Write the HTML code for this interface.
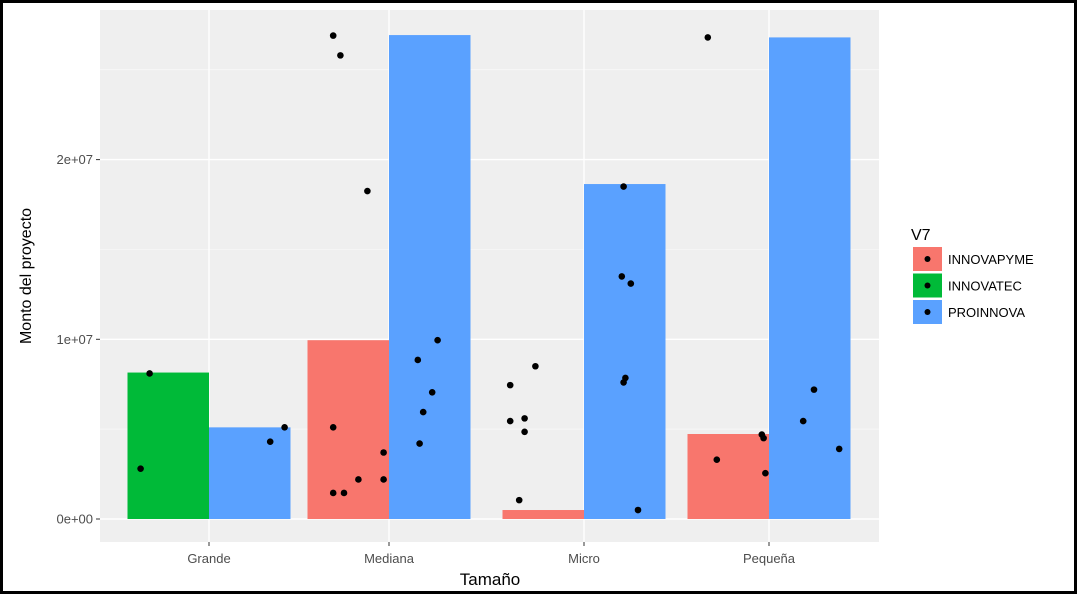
<!DOCTYPE html>
<html><head><meta charset="utf-8"><style>
html,body{margin:0;padding:0;background:#fff}
svg{display:block;font-family:"Liberation Sans",sans-serif}
</style></head><body>
<svg id="chart" width="1079" height="596" viewBox="0 0 1079 596">
<rect x="1.5" y="1.5" width="1074" height="591" fill="#fff" stroke="#000" stroke-width="3"/>
<g id="plot"></g>
</svg>
<script>
const categories = ["Grande","Mediana","Micro","Pequeña"];
const seriesNames = ["INNOVAPYME","INNOVATEC","PROINNOVA"];
const seriesColors = ["#F8766D","#00BA38","#5AA1FF"];
// bar values per series [Grande, Mediana, Micro, Pequeña]; null = absent
const innovapyme = [null, 9950000, 500000, 4730000];
const innovatec = [8150000, null, null, null];
const proinnova = [5100000, 26930000, 18640000, 26800000];
const yTicks = [0, 10000000, 20000000];
const yTickLabels = ["0e+00","1e+07","2e+07"];
// jittered points: category index, jitter offset (category units), value
const pointCat = [0,0,0,0, 1,1,1,1,1,1,1,1,1,1,1,1,1,1, 2,2,2,2,2,2,2,2,2,2,2,2, 3,3,3,3,3,3,3,3];
const pointJitter = [-0.33,-0.38,0.34,0.42, -0.31,-0.27,-0.12,-0.31,-0.31,-0.25,-0.17,-0.03,-0.03,0.16,0.27,0.24,0.19,0.17, -0.41,-0.27,-0.41,-0.33,-0.33,-0.36,0.22,0.21,0.26,0.23,0.22,0.3, -0.34,-0.29,-0.04,-0.03,-0.02,0.19,0.25,0.39];
const pointVal = [8100000,2800000,4300000,5100000, 26900000,25800000,18250000,5100000,1450000,1450000,2200000,2200000,3700000,8850000,9950000,7050000,5950000,4200000, 7450000,8500000,5450000,5600000,4850000,1050000,18500000,13500000,13100000,7850000,7600000,500000, 26800000,3300000,4700000,4500000,2550000,5450000,7200000,3900000];

const NS="http://www.w3.org/2000/svg";
const P={l:100,r:879,t:10,b:542};
const y0=519, pxPer=179.7/1e7;
const yScale=v=>y0-v*pxPer;
const catW=180;
// the screenshot's horizontal axis is slightly uneven; scale anchors per category slot
const xAnchor=[209,389,584,769];
const xScale=i=>xAnchor[Math.round(i)]+(i-Math.round(i))*catW;
const barW=81.5;
const g=document.getElementById('plot');
function mk(t,a){const e=document.createElementNS(NS,t);for(const k in a)e.setAttribute(k,a[k]);g.appendChild(e);return e;}
let e=mk('rect',{x:P.l,y:P.t,width:P.r-P.l,height:P.b-P.t,fill:'#EFEFEF'});


for(let k=0;k<yTicks.length;k++){const yv=yTicks[k]+5e6;const y=yScale(yv);if(y>P.t){e=mk('line',{x1:P.l,x2:P.r,y1:y,y2:y,stroke:'#F9F9F9','stroke-width':0.7});

}}
yTicks.forEach((t,k)=>{const y=yScale(t);e=mk('line',{x1:P.l,x2:P.r,y1:y,y2:y,stroke:'#fff','stroke-width':1.4});


e=mk('line',{x1:P.l-4,x2:P.l,y1:y,y2:y,stroke:'#333','stroke-width':1});


e=mk('text',{x:P.l-7,y:y+4.5,'text-anchor':'end','font-size':13,fill:'#4D4D4D'});e.textContent=yTickLabels[k];

});
categories.forEach((c,i)=>{const x=xScale(i);e=mk('line',{x1:x,x2:x,y1:P.t,y2:P.b,stroke:'#fff','stroke-width':1.4});


e=mk('line',{x1:x,x2:x,y1:P.b,y2:P.b+4,stroke:'#333','stroke-width':1});


e=mk('text',{x:x,y:P.b+21,'text-anchor':'middle','font-size':13,fill:'#4D4D4D'});e.textContent=c;

});
const series=[innovapyme,innovatec,proinnova];
categories.forEach((c,i)=>{const present=[];series.forEach((s,j)=>{if(s[i]!=null)present.push(j);});
const n=present.length;const total=barW*n;const left=xScale(i)-total/2;
present.forEach((j,k)=>{const v=series[j][i];const y=yScale(v);
e=mk('rect',{x:left+k*barW,y:y,width:barW,height:y0-y,fill:seriesColors[j]});

});});
pointVal.forEach((v,k)=>{e=mk('circle',{cx:xScale(pointCat[k]+pointJitter[k]),cy:yScale(v),r:3.3,fill:'#000'});

});
e=mk('text',{x:490,y:585,'text-anchor':'middle','font-size':17,fill:'#000'});e.textContent='Tamaño';


e=mk('text',{x:0,y:0,'text-anchor':'middle','font-size':16,fill:'#000',transform:'translate(31,276) rotate(-90)'});e.textContent='Monto del proyecto';


e=mk('text',{x:911,y:240,'font-size':16,fill:'#000'});e.textContent='V7';


seriesNames.forEach((n,j)=>{const y=247+j*26.5;
e=mk('rect',{x:913,y:y,width:29,height:24,fill:seriesColors[j]});


e=mk('circle',{cx:927.5,cy:y+12,r:3,fill:'#000'});


e=mk('text',{x:948,y:y+17,'font-size':13,fill:'#000'});e.textContent=n;

});
</script>
</body></html>
